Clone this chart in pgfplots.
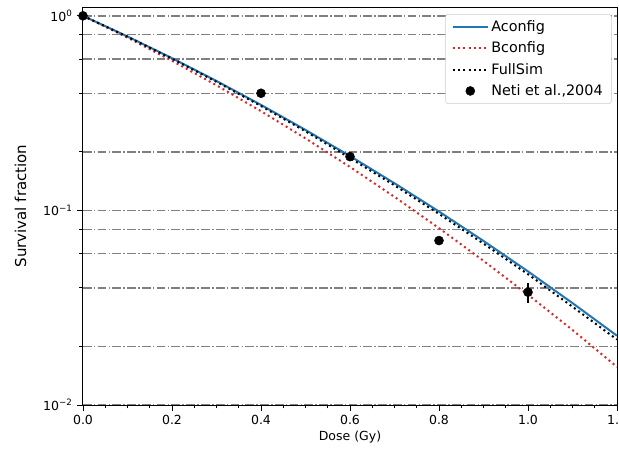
\documentclass[border=0pt]{standalone}
\usepackage{pgfplots}
\pgfplotsset{compat=1.18}
\usepackage{fontspec}
\setmainfont{DejaVu Sans}
\definecolor{mplblue}{HTML}{1F77B4}
\definecolor{mplred}{HTML}{D62728}
\definecolor{gridgray}{HTML}{808080}
\begin{document}
\begin{tikzpicture}
\begin{axis}[
  name=ax,
  scale only axis=true,
  width=427.2pt, height=318.4pt,
  ymode=log,
  xmin=0, xmax=1.2,
  ymin=0.01, ymax=1.11,
  font=\fontsize{10}{12}\selectfont,
  /pgf/number format/assume math mode=true,
  xtick={0,0.2,0.4,0.6,0.8,1.0,1.2},
  xticklabels={0.0,0.2,0.4,0.6,0.8,1.0,1.2},
  minor x tick num=3,
  ytick={0.01,0.1,1},
  yticklabels={10\textsuperscript{−2},10\textsuperscript{−1},10\textsuperscript{0}},
  minor ytick={0.02,0.04,0.06,0.08,0.2,0.4,0.6,0.8},
  tick align=outside,
  tick pos=left,
  major tick length=4.8pt,
  minor tick length=2.8pt,
  every tick/.style={black, line width=0.7pt},
  axis line style={black, line width=0.8pt},
  ymajorgrids=true, yminorgrids=true,
  major grid style={gridgray, line width=1.2pt, dash pattern=on 7pt off 1.8pt on 1.2pt off 1.8pt},
  minor grid style={gridgray, line width=1.2pt, dash pattern=on 7pt off 1.8pt on 1.2pt off 1.8pt},
  xlabel={Dose (Gy)},
  ylabel={Survival fraction},
  xlabel style={yshift=2pt},
  ylabel style={font=\fontsize{12}{14}\selectfont, yshift=6.6pt},
  legend style={at={(0.99,0.982)}, anchor=north east, draw=black!20, rounded corners=2pt, fill=white, font=\fontsize{11.5}{13.8}\selectfont, row sep=2.8pt, inner xsep=5pt, inner ysep=3pt},
  legend cell align=left,
  legend image code/.code={\draw[#1] (0pt,0pt) -- (28pt,0pt);},
]
\addplot[mplblue, line width=1.6pt] coordinates {
(0,1) (0.1,0.7835) (0.2,0.606) (0.3,0.4626) (0.4,0.3486) (0.5,0.2592) (0.6,0.1903) (0.7,0.1379) (0.8,0.0987) (0.9,0.0697) (1.0,0.0486) (1.1,0.0334) (1.2,0.0227)};
\addlegendentry{Aconfig}
\addplot[mplred, line width=1.6pt, dash pattern=on 1.6pt off 2.6pt] coordinates {
(0,1) (0.1,0.7726) (0.2,0.5874) (0.3,0.4396) (0.4,0.3237) (0.5,0.2346) (0.6,0.1673) (0.7,0.1174) (0.8,0.0811) (0.9,0.0551) (1.0,0.0369) (1.1,0.0243) (1.2,0.0157)};
\addlegendentry{Bconfig}
\addplot[black, line width=1.6pt, dash pattern=on 1.6pt off 2.6pt] coordinates {
(0,1) (0.1,0.781) (0.2,0.602) (0.3,0.458) (0.4,0.344) (0.5,0.255) (0.6,0.186) (0.7,0.1345) (0.8,0.096) (0.9,0.0675) (1.0,0.047) (1.1,0.032) (1.2,0.0217)};
\addlegendentry{FullSim}
\addplot[only marks, mark=*, mark size=3.6pt, black, mark options={fill=black},
  legend image code/.code={\fill[black] (14pt,0pt) circle (3.6pt);},
  error bars/.cd, y dir=both, y explicit, error bar style={black, line width=1.2pt}, error mark=none]
  coordinates {
(0,1) +- (0,0)
(0.4,0.40) +- (0,0.01)
(0.6,0.189) +- (0,0.005)
(0.8,0.070) +- (0,0.003)
(1.0,0.038) +- (0,0.0045)};
\addlegendentry{Neti et al.,2004}
\end{axis}
\pgfresetboundingbox
\useasboundingbox ([shift={(-66.4pt,-36.8pt)}]ax.south west) rectangle ([shift={(1.6pt,5.6pt)}]ax.north east);
\end{tikzpicture}
\end{document}
